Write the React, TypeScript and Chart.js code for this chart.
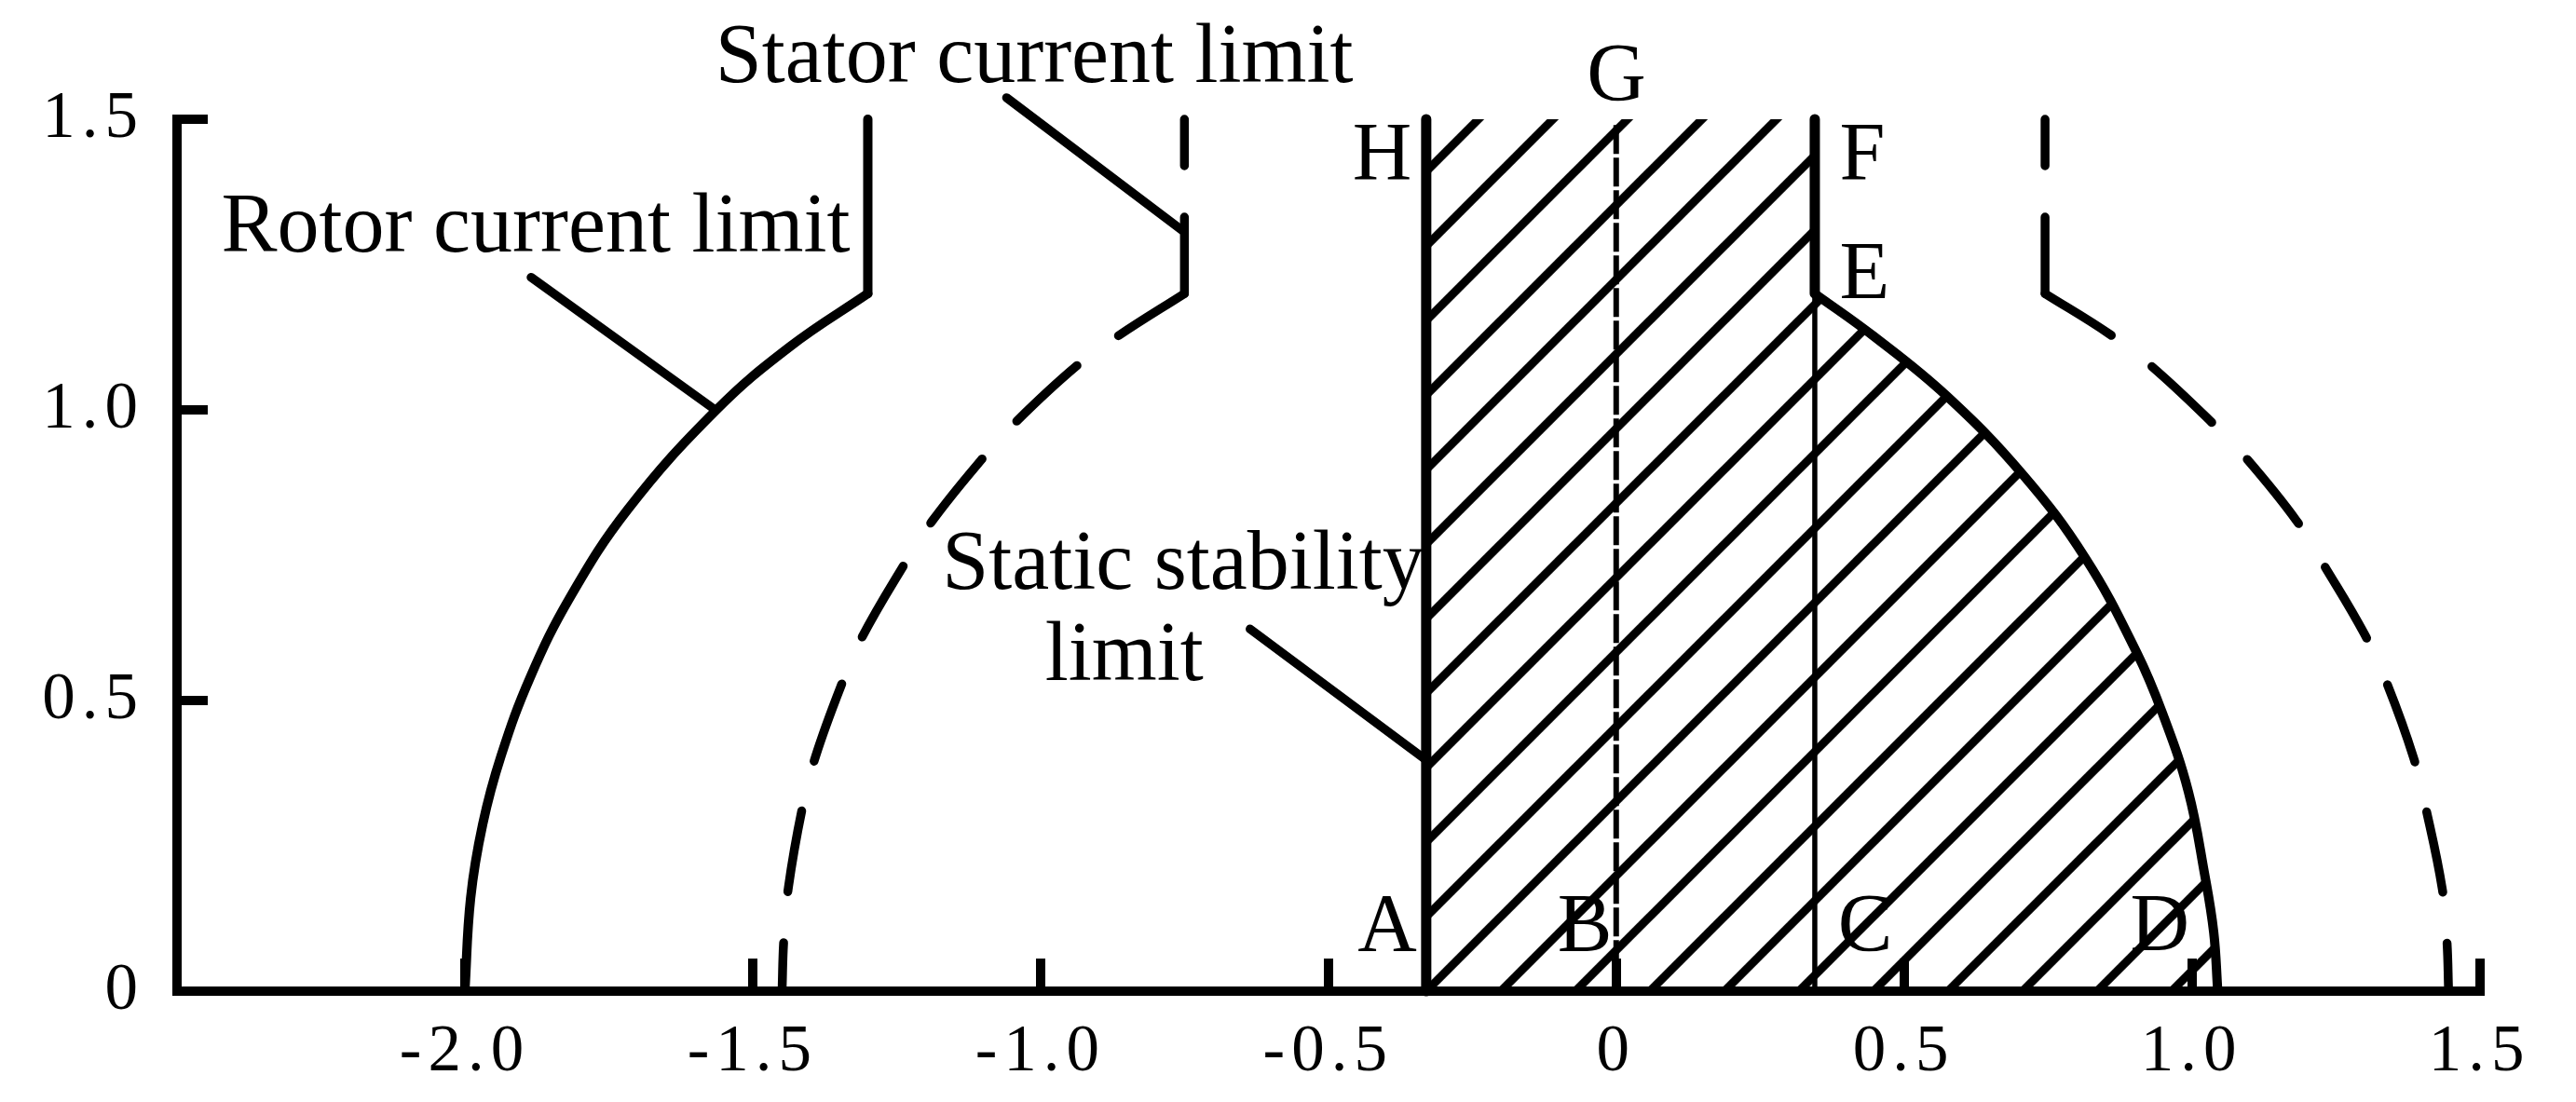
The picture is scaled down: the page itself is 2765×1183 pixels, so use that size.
import React, { useEffect, useRef } from 'react';
import { Chart, registerables } from 'chart.js';

Chart.register(...registerables);

// ---------- axis data ----------
const xTicks = [-2.5, -2.0, -1.5, -1.0, -0.5, 0, 0.5, 1.0, 1.5];
const xTickLabels = ['', '-2.0', '-1.5', '-1.0', '-0.5', '0', '0.5', '1.0', '1.5'];
const yTicks = [0, 0.5, 1.0, 1.5];
const yTickLabels = ['0', '0.5', '1.0', '1.5'];

// ---------- rotor current limit (solid) ----------
const rotorLeftArc = [
  { x: -2.0, y: 0 }, { x: -1.99, y: 0.16 }, { x: -1.969, y: 0.287 }, { x: -1.937, y: 0.405 },
  { x: -1.886, y: 0.541 }, { x: -1.817, y: 0.678 }, { x: -1.716, y: 0.83 }, { x: -1.563, y: 1.0 },
  { x: -1.435, y: 1.109 }, { x: -1.30, y: 1.2 },
];
const rotorLeftTop = [{ x: -1.30, y: 1.2 }, { x: -1.30, y: 1.5 }];
const rotorRightArc = [
  { x: 0.345, y: 1.2 }, { x: 0.447, y: 1.127 }, { x: 0.574, y: 1.024 }, { x: 0.706, y: 0.889 },
  { x: 0.815, y: 0.745 }, { x: 0.904, y: 0.583 }, { x: 0.949, y: 0.478 }, { x: 0.994, y: 0.343 },
  { x: 1.022, y: 0.202 }, { x: 1.038, y: 0.101 }, { x: 1.045, y: 0 },
];

// ---------- stator current limit (dashed) ----------
const statorLeftTop = [{ x: -0.75, y: 1.5 }, { x: -0.75, y: 1.2 }];
const statorLeftArc = [
  { x: -0.75, y: 1.2 }, { x: -0.864, y: 1.128 }, { x: -0.938, y: 1.075 }, { x: -1.043, y: 0.979 },
  { x: -1.102, y: 0.915 }, { x: -1.188, y: 0.809 }, { x: -1.238, y: 0.732 }, { x: -1.31, y: 0.609 },
  { x: -1.345, y: 0.529 }, { x: -1.391, y: 0.403 }, { x: -1.414, y: 0.314 }, { x: -1.438, y: 0.178 },
  { x: -1.446, y: 0.088 }, { x: -1.449, y: 0 },
];
const statorRightTop = [{ x: 0.745, y: 1.5 }, { x: 0.745, y: 1.2 }];
const statorRightArc = [
  { x: 0.745, y: 1.2 }, { x: 0.856, y: 1.131 }, { x: 0.93, y: 1.075 }, { x: 1.035, y: 0.978 },
  { x: 1.096, y: 0.915 }, { x: 1.182, y: 0.809 }, { x: 1.23, y: 0.732 }, { x: 1.3, y: 0.614 },
  { x: 1.337, y: 0.534 }, { x: 1.385, y: 0.402 }, { x: 1.406, y: 0.317 }, { x: 1.435, y: 0.176 },
  { x: 1.443, y: 0.088 }, { x: 1.446, y: 0 },
];

// ---------- operating region boundaries ----------
const lineHA = [{ x: -0.33, y: 1.5 }, { x: -0.33, y: 0 }];
const lineFE = [{ x: 0.345, y: 1.5 }, { x: 0.345, y: 1.2 }];
const lineEC = [{ x: 0.345, y: 1.2 }, { x: 0.345, y: 0 }];
const lineGB = [{ x: 0, y: 1.49 }, { x: 0, y: 0 }];

// ---------- leader lines ----------
const rotorLeader = [{ x: -1.885, y: 1.228 }, { x: -1.565, y: 1.0 }];
const statorLeader = [{ x: -1.059, y: 1.537 }, { x: -0.754, y: 1.309 }];
const stabilityLeader = [{ x: -0.636, y: 0.623 }, { x: -0.332, y: 0.399 }];

// ---------- texts ----------
const annotationTexts = ['Rotor current limit', 'Stator current limit', 'Static stability', 'limit'];
const pointLetters = ['A', 'B', 'C', 'D', 'E', 'F', 'G', 'H'];

// text anchor positions (data units, left/baseline)
const annotationAnchors = [[-2.423, 1.272], [-1.565, 1.564], [-1.171, 0.692], [-0.992, 0.535]];
const letterAnchors = [
  [-0.449, 0.07], [-0.102, 0.07], [0.385, 0.07], [0.893, 0.07],
  [0.388, 1.192], [0.388, 1.397], [-0.051, 1.534], [-0.458, 1.397],
];

const W = 2765;
const H = 1183;
const SERIF = '"Liberation Serif", "Times New Roman", serif';

function makeHatch(): { pattern: CanvasPattern | string } {
  const tw = 80, th = 80;
  const c = document.createElement('canvas');
  c.width = tw; c.height = th;
  const g = c.getContext('2d');
  if (!g) return { pattern: 'rgba(0,0,0,0.2)' };
  g.strokeStyle = '#000';
  g.lineWidth = 9;
  g.beginPath();
  for (let k = -2; k <= 2; k++) {
    g.moveTo(k * tw - tw, th + th);
    g.lineTo(k * tw + 2 * tw, -th);
  }
  g.stroke();
  const p = g.createPattern(c, 'repeat');
  return { pattern: p || 'rgba(0,0,0,0.2)' };
}

export default function App() {
  const ref = useRef<HTMLCanvasElement | null>(null);

  useEffect(() => {
    if (!ref.current) return;
    const hatch = makeHatch();
    const hatchRegion = [...lineHA, ...[...rotorRightArc].reverse(), lineFE[0]];

    const mk = (data: any[], opts: any = {}) => ({
      data,
      showLine: true,
      pointRadius: 0,
      pointHoverRadius: 0,
      borderColor: '#000',
      borderWidth: 10,
      borderCapStyle: 'round',
      borderJoinStyle: 'round',
      tension: 0,
      clip: false,
      fill: false,
      order: 0,
      ...opts,
    });

    const curve = { tension: 0.4 };
    const dash = [88, 55];

    const overlay = {
      id: 'overlay',
      afterLayout(chart: any) {
        const p = hatch.pattern as any;
        if (p && typeof p.setTransform === 'function') {
          const tx = chart.scales.x.getPixelForValue(lineHA[1].x);
          const ty = chart.scales.y.getPixelForValue(lineHA[1].y);
          p.setTransform(new DOMMatrix().translate(tx, ty));
        }
      },
      beforeDraw(chart: any) {
        chart.ctx.letterSpacing = '7px';
      },
      afterDatasetsDraw(chart: any) {
        const ctx = chart.ctx;
        const xs = chart.scales.x;
        const ys = chart.scales.y;
        ctx.save();
        ctx.letterSpacing = '0px';
        ctx.fillStyle = '#000';
        ctx.textBaseline = 'alphabetic';
        ctx.textAlign = 'left';
        ctx.font = `90px ${SERIF}`;
        annotationTexts.forEach((t, i) => {
          const [ax, ay] = annotationAnchors[i];
          ctx.fillText(t, xs.getPixelForValue(ax), ys.getPixelForValue(ay));
        });
        ctx.font = `88px ${SERIF}`;
        pointLetters.forEach((t, i) => {
          const [ax, ay] = letterAnchors[i];
          ctx.fillText(t, xs.getPixelForValue(ax), ys.getPixelForValue(ay));
        });
        ctx.restore();
      },
      afterDraw(chart: any) {
        chart.ctx.letterSpacing = '0px';
      },
    };

    const chart = new Chart(ref.current, {
      type: 'scatter',
      data: {
        datasets: [
          mk(hatchRegion, {
            borderColor: 'rgba(0,0,0,0)',
            borderWidth: 1,
            fill: 'shape',
            backgroundColor: hatch.pattern,
            order: 10,
            clip: undefined,
          }),
          mk(rotorLeftArc, curve),
          mk(rotorLeftTop),
          mk(rotorRightArc, curve),
          mk(statorLeftTop, { borderDash: dash, borderDashOffset: 38, borderWidth: 9.5 }),
          mk(statorLeftArc, { ...curve, borderDash: dash, borderDashOffset: 4, borderWidth: 9.5 }),
          mk(statorRightTop, { borderDash: dash, borderDashOffset: 38, borderWidth: 9.5 }),
          mk(statorRightArc, { ...curve, borderDash: dash, borderDashOffset: 4, borderWidth: 9.5 }),
          mk(lineHA, { borderWidth: 11 }),
          mk(lineFE, { borderWidth: 11 }),
          mk(lineEC, { borderWidth: 5.5, borderCapStyle: 'butt' }),
          mk(lineGB, { borderWidth: 6, borderDash: [31, 4], borderCapStyle: 'butt' }),
          mk(rotorLeader, { borderWidth: 9.5 }),
          mk(statorLeader, { borderWidth: 9.5 }),
          mk(stabilityLeader, { borderWidth: 9.5 }),
        ],
      } as any,
      options: {
        responsive: false,
        maintainAspectRatio: false,
        devicePixelRatio: 1,
        animation: false,
        events: [],
        layout: { padding: { top: 128, right: 75, left: 0, bottom: 0 } },
        plugins: {
          legend: { display: false },
          tooltip: { enabled: false },
          title: { display: false },
        },
        scales: {
          x: {
            type: 'linear',
            position: 'bottom',
            min: -2.5,
            max: 1.5,
            afterBuildTicks: (s: any) => { s.ticks = xTicks.map((v) => ({ value: v })); },
            afterFit: (s: any) => { s.height = 119; },
            ticks: {
              callback: (_v: any, i: number) => xTickLabels[i],
              font: { family: SERIF, size: 71 },
              color: '#000',
              padding: 59,
              maxRotation: 0,
              minRotation: 0,
              autoSkip: false,
            },
            grid: {
              display: true,
              drawOnChartArea: false,
              drawTicks: true,
              tickLength: -35,
              tickWidth: 10,
              tickColor: '#000',
              color: '#000',
              lineWidth: 10,
            },
            border: { display: true, color: '#000', width: 10 },
          },
          y: {
            type: 'linear',
            position: 'left',
            min: 0,
            max: 1.5,
            afterBuildTicks: (s: any) => { s.ticks = yTicks.map((v) => ({ value: v })); },
            afterFit: (s: any) => { s.width = 190; },
            ticks: {
              callback: (_v: any, i: number) => yTickLabels[i],
              font: { family: SERIF, size: 71 },
              color: '#000',
              padding: 68,
              autoSkip: false,
            },
            grid: {
              display: true,
              drawOnChartArea: false,
              drawTicks: true,
              tickLength: -33,
              tickWidth: 10,
              tickColor: '#000',
              color: '#000',
              lineWidth: 10,
            },
            border: { display: true, color: '#000', width: 10 },
          },
        },
      } as any,
      plugins: [overlay],
    });

    return () => chart.destroy();
  }, []);

  return (
    <div style={{ position: 'fixed', left: 0, top: 0, width: W, height: H, background: '#fff' }}>
      <canvas ref={ref} width={W} height={H} style={{ width: W, height: H, display: 'block' }} />
    </div>
  );
}
